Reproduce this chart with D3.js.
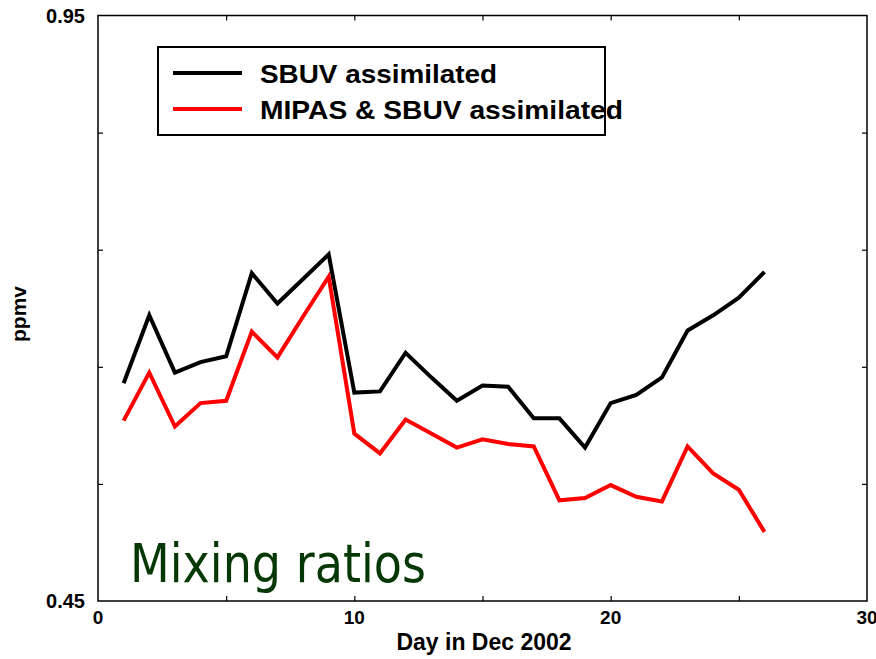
<!DOCTYPE html>
<html>
<head>
<meta charset="utf-8">
<script src="https://cdn.jsdelivr.net/npm/d3@7"></script>
<style>
  html, body { margin: 0; padding: 0; background: #fff; }
  svg { display: block; }
</style>
</head>
<body>
<script>
const days = d3.range(1, 27);
const sbuv = [0.636, 0.694, 0.645, 0.654, 0.659, 0.730, 0.704, 0.725, 0.746, 0.628,
              0.629, 0.662, 0.641, 0.621, 0.634, 0.633, 0.606, 0.606, 0.581, 0.619,
              0.626, 0.641, 0.681, 0.694, 0.709, 0.731];
const mipas = [0.604, 0.645, 0.599, 0.619, 0.621, 0.680, 0.658, 0.693, 0.727, 0.593,
               0.576, 0.605, 0.593, 0.581, 0.588, 0.584, 0.582, 0.536, 0.538, 0.549,
               0.539, 0.535, 0.582, 0.559, 0.545, 0.509];
const seriesNames = ["SBUV assimilated", "MIPAS & SBUV assimilated"];
const xTickLabels = [0, 10, 20, 30];
const xMinorTicks = [5, 10, 15, 20, 25];
const yTickLabels = [0.45, 0.95];
const yMinorTicks = [0.55, 0.65, 0.75, 0.85];

const width = 876, height = 659;
const plotLeft = 98, plotRight = 867, plotTop = 15.5, plotBottom = 601;

const svg = d3.select("body")
    .append("svg")
    .attr("width", width)
    .attr("height", height);

const x = d3.scaleLinear().domain([0, 30]).range([plotLeft, plotRight]);
const y = d3.scaleLinear().domain([0.45, 0.95]).range([plotBottom, plotTop]);

const font = "'Liberation Sans', Arial, Helvetica, sans-serif";

// inside ticks on all four sides
const tick = g => g.call(s => s.select(".domain").remove())
    .selectAll("line").attr("stroke", "#000").attr("stroke-width", 1.2);

svg.append("g").attr("transform", `translate(0,${plotBottom})`)
    .call(d3.axisBottom(x).tickValues(xMinorTicks).tickSize(-5).tickFormat(""))
    .call(tick);
svg.append("g").attr("transform", `translate(0,${plotTop})`)
    .call(d3.axisTop(x).tickValues(xMinorTicks).tickSize(-5).tickFormat(""))
    .call(tick);
svg.append("g").attr("transform", `translate(${plotLeft},0)`)
    .call(d3.axisLeft(y).tickValues(yMinorTicks).tickSize(-5).tickFormat(""))
    .call(tick);
svg.append("g").attr("transform", `translate(${plotRight},0)`)
    .call(d3.axisRight(y).tickValues(yMinorTicks).tickSize(-5).tickFormat(""))
    .call(tick);

svg.append("rect")
    .attr("x", plotLeft).attr("y", plotTop)
    .attr("width", plotRight - plotLeft).attr("height", plotBottom - plotTop)
    .attr("fill", "none")
    .attr("stroke", "#000")
    .attr("stroke-width", 1.5);

// tick labels
svg.selectAll(".xl").data(xTickLabels).enter().append("text")
    .attr("x", d => x(d))
    .attr("y", 624)
    .attr("text-anchor", "middle")
    .attr("font-family", font)
    .attr("font-weight", "bold")
    .attr("font-size", "19px")
    .text(d => d);

svg.selectAll(".yl").data(yTickLabels).enter().append("text")
    .attr("x", 85)
    .attr("y", d => y(d) + 7)
    .attr("text-anchor", "end")
    .attr("font-family", font)
    .attr("font-weight", "bold")
    .attr("font-size", "20px")
    .text(d => d.toFixed(2));

svg.append("text")
    .attr("x", 484)
    .attr("y", 650)
    .attr("text-anchor", "middle")
    .attr("font-family", font)
    .attr("font-weight", "bold")
    .attr("font-size", "23px")
    .text("Day in Dec 2002");

svg.append("text")
    .attr("transform", "translate(26,314) rotate(-90)")
    .attr("text-anchor", "middle")
    .attr("font-family", font)
    .attr("font-weight", "bold")
    .attr("font-size", "21px")
    .text("ppmv");

// lines
const line = d3.line()
    .x((d, i) => x(days[i]))
    .y(d => y(d));

svg.append("path")
    .attr("d", line(sbuv))
    .attr("fill", "none")
    .attr("stroke", "#000")
    .attr("stroke-width", 4)
    .attr("stroke-linejoin", "miter");

svg.append("path")
    .attr("d", line(mipas))
    .attr("fill", "none")
    .attr("stroke", "#ff0000")
    .attr("stroke-width", 4)
    .attr("stroke-linejoin", "miter");

// legend
svg.append("rect")
    .attr("x", 158).attr("y", 47)
    .attr("width", 447).attr("height", 88)
    .attr("fill", "none")
    .attr("stroke", "#000")
    .attr("stroke-width", 2);

const legColors = ["#000", "#ff0000"];
seriesNames.forEach((name, i) => {
    const ly = 73 + i * 36;
    svg.append("line")
        .attr("x1", 173).attr("x2", 242)
        .attr("y1", ly).attr("y2", ly)
        .attr("stroke", legColors[i])
        .attr("stroke-width", 4);
    svg.append("text")
        .attr("x", 260)
        .attr("y", ly + 10)
        .attr("font-family", font)
        .attr("font-weight", "bold")
        .attr("font-size", "25px")
        .attr("textLength", i == 0 ? 237 : 363)
        .attr("lengthAdjust", "spacingAndGlyphs")
        .text(name);
});

svg.append("text")
    .attr("x", 130)
    .attr("y", 582)
    .attr("font-family", "'DejaVu Sans', Verdana, sans-serif")
    .attr("font-size", "53px")
    .attr("textLength", 296)
    .attr("lengthAdjust", "spacingAndGlyphs")
    .attr("fill", "#053805")
    .text("Mixing ratios");
</script>
</body>
</html>
